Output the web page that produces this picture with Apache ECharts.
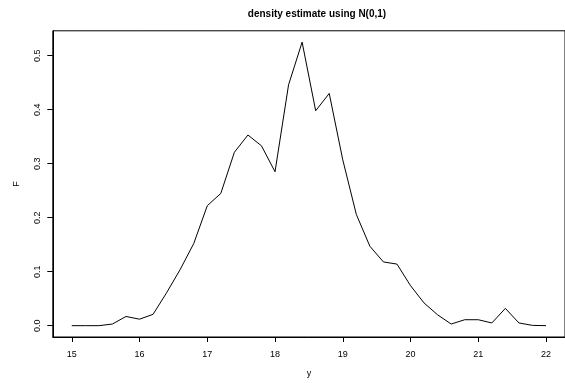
<!DOCTYPE html>
<html>
<head>
<meta charset="utf-8">
<script src="https://cdn.jsdelivr.net/npm/echarts@6/dist/echarts.min.js"></script>
<style>
html,body{margin:0;padding:0;background:#fff;}
#chart{width:565px;height:383px;}
</style>
</head>
<body>
<div id="chart"></div>
<script>
const titleText = 'density estimate using N(0,1)';
const xName = 'y';
const yName = 'F';
const xValues = [15.0,15.2,15.4,15.6,15.8,16.0,16.2,16.4,16.6,16.8,17.0,17.2,17.4,17.6,17.8,18.0,18.2,18.4,18.6,18.8,19.0,19.2,19.4,19.6,19.8,20.0,20.2,20.4,20.6,20.8,21.0,21.2,21.4,21.6,21.8,22.0];
const yValues = [0,0,0,0.003,0.017,0.012,0.021,0.061,0.104,0.152,0.222,0.245,0.321,0.353,0.333,0.285,0.446,0.525,0.398,0.430,0.307,0.206,0.147,0.118,0.114,0.074,0.042,0.020,0.003,0.011,0.011,0.005,0.032,0.005,0.0005,0];
const xTicks = [15,16,17,18,19,20,21,22];
const yTicks = [0,0.1,0.2,0.3,0.4,0.5];

const chart = echarts.init(document.getElementById('chart'), null, {renderer:'canvas'});
const font = 'Liberation Sans, Arial, Helvetica, sans-serif';
const data = xValues.map((x,i)=>[x,yValues[i]]);
chart.setOption({
  animation:false,
  backgroundColor:'#fff',
  title:{text:titleText,left:312,top:4,textAlign:'center',
    textStyle:{fontFamily:font,fontSize:10,fontWeight:'bold',color:'#000'}},
  grid:{left:52.8,top:30.8,right:-6,bottom:41.5,show:true,borderColor:'#000',borderWidth:1,backgroundColor:'transparent'},
  xAxis:{type:'value',min:14.72,max:22.28,
    name:xName,nameLocation:'middle',nameGap:32,
    nameTextStyle:{fontFamily:font,fontSize:9,color:'#000'},
    axisLine:{show:true,onZero:false,lineStyle:{color:'#000',width:1}},
    axisTick:{show:true,inside:false,length:5,customValues:xTicks,lineStyle:{color:'#000'}},
    axisLabel:{show:true,customValues:xTicks,margin:13,fontFamily:font,fontSize:9,color:'#000',formatter:v=>String(Math.round(v))},
    splitLine:{show:false}},
  yAxis:{type:'value',min:-0.021,max:0.546,
    name:yName,nameLocation:'middle',nameGap:32,nameRotate:90,
    nameTextStyle:{fontFamily:font,fontSize:9,color:'#000'},
    axisLine:{show:true,onZero:false,lineStyle:{color:'#000',width:1}},
    axisTick:{show:true,inside:false,length:5.5,customValues:yTicks,lineStyle:{color:'#000'}},
    axisLabel:{show:true,customValues:yTicks,rotate:90,margin:11,fontFamily:font,fontSize:9,color:'#000',formatter:v=>v.toFixed(1)},
    splitLine:{show:false}},
  series:[{type:'line',data:data,symbol:'none',lineStyle:{color:'#000',width:1},clip:false}]
});
</script>
</body>
</html>
